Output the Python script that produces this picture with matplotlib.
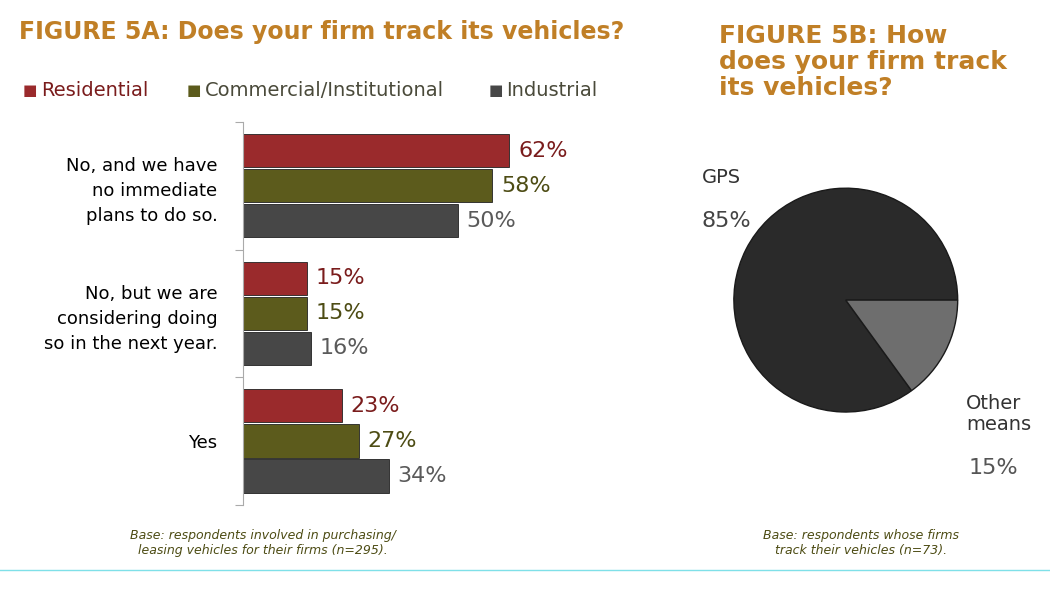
import matplotlib.pyplot as plt
import numpy as np

categories = ['No, and we have\nno immediate\nplans to do so.',
              'No, but we are\nconsidering doing\nso in the next year.',
              'Yes']
series = ['Residential', 'Commercial/Institutional', 'Industrial']
residential = [62, 15, 23]
commercial = [58, 15, 27]
industrial = [50, 16, 34]
pie_labels = ['GPS', 'Other\nmeans']
pie_values = [85, 15]

bar_colors = ['#9a2a2c', '#5c5b1c', '#474747']
text_colors = ['#7a1c1c', '#4d4c14', '#5a5a5a']
title_color = '#c07f26'

fig = plt.figure(figsize=(10.5, 5.89), dpi=100)

# bar chart
ax = fig.add_axes([0.231, 0.143, 0.41, 0.65])
centers = np.array([0.5, 1.5, 2.5])
h = 0.26
for k, vals in enumerate([residential, commercial, industrial]):
    y = centers + (k - 1) * 0.275
    ax.barh(y, vals, height=h, color=bar_colors[k], edgecolor='#222222', linewidth=0.6)
    for yy, v in zip(y, vals):
        ax.text(v + 2, yy, f'{v}%', va='center', ha='left', fontsize=16,
                color=text_colors[k])
ax.set_ylim(3, 0)
ax.set_xlim(0, 100)
ax.set_yticks([0, 1, 2, 3])
ax.set_yticklabels([])
ax.set_yticks(centers, minor=True)
ax.set_yticklabels(categories, minor=True, fontsize=13, ha='right', linespacing=1.5)
ax.tick_params(axis='y', which='minor', length=0, pad=18)
ax.tick_params(axis='y', which='major', length=6, color='#aaaaaa')
ax.set_xticks([])
for s in ['top', 'right', 'bottom']:
    ax.spines[s].set_visible(False)
ax.spines['left'].set_color('#aaaaaa')

# legend
lx = [0.022, 0.178, 0.465]
for k, name in enumerate(series):
    fig.text(lx[k], 0.846, '\u25a0', color=bar_colors[k], fontsize=11, va='center')
    fig.text(lx[k] + 0.017, 0.846, name, color=text_colors[k] if k == 0 else '#4a4a3a',
             fontsize=14, va='center')

fig.text(0.018, 0.945, 'FIGURE 5A: Does your firm track its vehicles?', color=title_color,
         fontsize=17, fontweight='bold', va='center')
fig.text(0.685, 0.895, 'FIGURE 5B: How\ndoes your firm track\nits vehicles?', color=title_color,
         fontsize=18, fontweight='bold', va='center', linespacing=1.1)

# pie
pax = fig.add_axes([0.672, 0.253, 0.267, 0.475])
wedges, _ = pax.pie(pie_values, colors=['#2a2a2a', '#6e6e6e'], startangle=0,
                    wedgeprops=dict(edgecolor='#1a1a1a', linewidth=1))
pax.set_aspect('equal')
fig.text(0.668, 0.69, pie_labels[0], fontsize=14, color='#333333')
fig.text(0.668, 0.615, f'{pie_values[0]}%', fontsize=16, color='#444444')
fig.text(0.92, 0.27, pie_labels[1], fontsize=14, color='#333333', linespacing=1.1)
fig.text(0.922, 0.195, f'{pie_values[1]}%', fontsize=16, color='#555555')

fig.text(0.25, 0.06, 'Base: respondents involved in purchasing/\nleasing vehicles for their firms (n=295).',
         ha='center', fontsize=9, style='italic', color='#4d4c14')
fig.text(0.82, 0.06, 'Base: respondents whose firms\ntrack their vehicles (n=73).',
         ha='center', fontsize=9, style='italic', color='#4d4c14')
fig.add_artist(plt.Line2D([0, 1], [0.032, 0.032], color='#7fe0e8', linewidth=1))

fig.savefig('out.png', dpi=100)
